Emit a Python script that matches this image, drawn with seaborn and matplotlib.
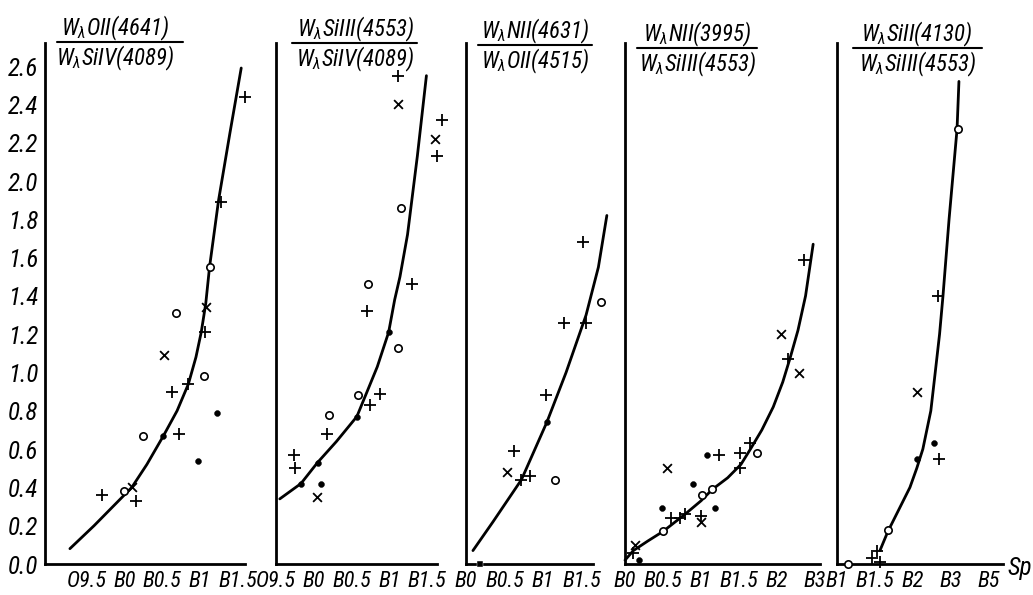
import matplotlib
matplotlib.use("Agg")
import matplotlib.pyplot as plt
import seaborn as sns
from matplotlib.lines import Line2D
from matplotlib import font_manager as fm

# x positions: panels 1-3 in spectral subclasses (B0 = 0),
# panels 4-5 in tick index (B0 = 0 / B1 = 0)

# panel 1 : OII(4641) / SiIV(4089)
p1_curve_x = [-0.72, -0.4, -0.1, 0.1, 0.3, 0.52, 0.7, 0.85, 0.95, 1.02, 1.08, 1.13, 1.25, 1.4, 1.55]
p1_curve_y = [0.08, 0.2, 0.32, 0.40, 0.52, 0.67, 0.8, 0.94, 1.08, 1.21, 1.36, 1.55, 1.90, 2.25, 2.59]
p1_plus_x = [-0.29, 0.15, 0.73, 0.63, 0.85, 1.07, 1.28, 1.60]
p1_plus_y = [0.36, 0.33, 0.68, 0.90, 0.94, 1.21, 1.89, 2.44]
p1_cross_x = [0.1, 0.53, 1.08]
p1_cross_y = [0.40, 1.09, 1.34]
p1_ring_x = [0.0, 0.25, 0.68, 1.06, 1.13]
p1_ring_y = [0.38, 0.67, 1.31, 0.98, 1.55]
p1_dot_x = [0.52, 0.98, 1.23]
p1_dot_y = [0.67, 0.54, 0.79]

# panel 2 : SiIII(4553) / SiIV(4089)
p2_curve_x = [-0.45, -0.17, 0.05, 0.3, 0.57, 0.84, 0.99, 1.07, 1.14, 1.24, 1.37, 1.49]
p2_curve_y = [0.34, 0.42, 0.53, 0.64, 0.77, 1.03, 1.21, 1.38, 1.50, 1.72, 2.13, 2.55]
p2_plus_x = [-0.26, -0.25, 0.18, 0.75, 0.88, 0.7, 1.3, 1.12, 1.70, 1.63]
p2_plus_y = [0.57, 0.50, 0.68, 0.83, 0.89, 1.32, 1.46, 2.55, 2.32, 2.13]
p2_cross_x = [0.04, 1.12, 1.61]
p2_cross_y = [0.35, 2.40, 2.22]
p2_ring_x = [0.2, 0.58, 1.12, 0.72, 1.15]
p2_ring_y = [0.78, 0.88, 1.13, 1.46, 1.86]
p2_dot_x = [-0.17, 0.05, 0.1, 0.57, 0.99]
p2_dot_y = [0.42, 0.53, 0.42, 0.77, 1.21]

# panel 3 : NII(4631) / OII(4515)
p3_curve_x = [0.09, 0.35, 0.72, 1.05, 1.3, 1.56, 1.72, 1.83]
p3_curve_y = [0.07, 0.22, 0.44, 0.74, 1.0, 1.3, 1.55, 1.82]
p3_plus_x = [0.62, 0.72, 0.83, 1.04, 1.27, 1.56, 1.52]
p3_plus_y = [0.59, 0.44, 0.46, 0.88, 1.26, 1.26, 1.68]
p3_cross_x = [0.53]
p3_cross_y = [0.48]
p3_ring_x = [1.16, 1.75]
p3_ring_y = [0.44, 1.37]
p3_dot_x = [1.05]
p3_dot_y = [0.74]
p3_square_x = [0.18]
p3_square_y = [0.0]

# panel 4 : NII(3995) / SiIII(4553)
p4_curve_x = [0.0, 0.22, 0.6, 1.0, 1.58, 2.0, 2.3, 2.7, 3.05, 3.3, 3.6, 3.9, 4.15, 4.35, 4.55, 4.75, 4.95]
p4_curve_y = [0.02, 0.07, 0.12, 0.17, 0.26, 0.33, 0.39, 0.45, 0.52, 0.60, 0.70, 0.82, 0.95, 1.08, 1.22, 1.40, 1.67]
p4_plus_x = [0.22, 1.2, 1.45, 1.58, 2.0, 2.48, 3.03, 3.03, 3.3, 4.3, 4.7]
p4_plus_y = [0.06, 0.24, 0.24, 0.26, 0.25, 0.57, 0.50, 0.58, 0.63, 1.07, 1.59]
p4_cross_x = [0.26, 1.1, 2.0, 4.1, 4.58]
p4_cross_y = [0.10, 0.50, 0.22, 1.20, 1.00]
p4_ring_x = [1.0, 2.03, 2.3, 3.46]
p4_ring_y = [0.17, 0.36, 0.39, 0.58]
p4_dot_x = [0.37, 0.97, 1.8, 2.17, 2.37]
p4_dot_y = [0.02, 0.29, 0.42, 0.57, 0.29]

# panel 5 : SiII(4130) / SiIII(4553)
p5_curve_x = [1.13, 1.34, 1.92, 2.1, 2.26, 2.47, 2.58, 2.7, 2.79, 2.95, 3.16, 3.21]
p5_curve_y = [0.07, 0.17, 0.40, 0.5, 0.60, 0.80, 0.99, 1.2, 1.40, 1.8, 2.27, 2.52]
p5_plus_x = [0.92, 1.13, 1.05, 2.68, 2.66]
p5_plus_y = [0.03, 0.01, 0.07, 0.55, 1.40]
p5_cross_x = [2.1]
p5_cross_y = [0.90]
p5_ring_x = [0.29, 1.34, 3.18]
p5_ring_y = [0.0, 0.18, 2.27]
p5_dot_x = [2.1, 2.55]
p5_dot_y = [0.55, 0.63]

p1_ticks = [-0.5, 0, 0.5, 1, 1.5]
p1_labels = ["O9.5", "B0", "B0.5", "B1", "B1.5"]
p3_ticks = [0, 0.5, 1, 1.5]
p3_labels = ["B0", "B0.5", "B1", "B1.5"]
p4_ticks = [0, 1, 2, 3, 4, 5]
p4_labels = ["B0", "B0.5", "B1", "B1.5", "B2", "B3"]
p5_ticks = [0, 1, 2, 3, 4]
p5_labels = ["B1", "B1.5", "B2", "B3", "B5"]
y_ticks = [i * 0.2 for i in range(14)]

numerators = [r"$W_\lambda$OII(4641)", r"$W_\lambda$SiIII(4553)", r"$W_\lambda$NII(4631)",
              r"$W_\lambda$NII(3995)", r"$W_\lambda$SiII(4130)"]
denominators = [r"$W_\lambda$SiIV(4089)", r"$W_\lambda$SiIV(4089)", r"$W_\lambda$OII(4515)",
                r"$W_\lambda$SiIII(4553)", r"$W_\lambda$SiIII(4553)"]

sns.set_style("white")

# pick a narrow italic face if one is installed, else Liberation Sans
family, fs_tick, fs_ytick, fs_title = "Liberation Sans", 13, 15, 14
for cand in ["Liberation Sans Narrow", "Roboto Condensed", "DejaVu Sans Condensed", "Open Sans Condensed"]:
    try:
        fm.findfont(fm.FontProperties(family=cand), fallback_to_default=False)
        family, fs_tick, fs_ytick, fs_title = cand, 16, 18, 16.5
        break
    except Exception:
        pass

plt.rcParams["font.family"] = [family, "DejaVu Sans"]
plt.rcParams["font.style"] = "italic"
plt.rcParams["mathtext.fontset"] = "custom"
plt.rcParams["mathtext.rm"] = f"{family}:italic"
plt.rcParams["mathtext.it"] = f"{family}:italic"
for k in ["text.color", "axes.labelcolor", "xtick.color", "ytick.color"]:
    plt.rcParams[k] = "black"

W, H = 1033, 595
fig = plt.figure(figsize=(W / 100, H / 100), dpi=100)
fig.patch.set_facecolor("white")

# axes boxes in pixels: left, right (end of x axis), x range
boxes = [
    (45, 245, -1.05, 1.6),
    (276, 437, -0.5, 1.63),
    (466, 593, 0.0, 1.65),
    (625, 820, 0.0, 5.13),
    (837, 1003, 0.0, 4.37),
]
bottom_px, top_ylim = 564, 2.72
px_per_unit = 191.5

panels = [
    (p1_curve_x, p1_curve_y, p1_plus_x, p1_plus_y, p1_cross_x, p1_cross_y, p1_ring_x, p1_ring_y, p1_dot_x, p1_dot_y, p1_ticks, p1_labels),
    (p2_curve_x, p2_curve_y, p2_plus_x, p2_plus_y, p2_cross_x, p2_cross_y, p2_ring_x, p2_ring_y, p2_dot_x, p2_dot_y, p1_ticks, p1_labels),
    (p3_curve_x, p3_curve_y, p3_plus_x, p3_plus_y, p3_cross_x, p3_cross_y, p3_ring_x, p3_ring_y, p3_dot_x, p3_dot_y, p3_ticks, p3_labels),
    (p4_curve_x, p4_curve_y, p4_plus_x, p4_plus_y, p4_cross_x, p4_cross_y, p4_ring_x, p4_ring_y, p4_dot_x, p4_dot_y, p4_ticks, p4_labels),
    (p5_curve_x, p5_curve_y, p5_plus_x, p5_plus_y, p5_cross_x, p5_cross_y, p5_ring_x, p5_ring_y, p5_dot_x, p5_dot_y, p5_ticks, p5_labels),
]

height_px = top_ylim * px_per_unit
axes = []
for i, ((l, r, x0, x1), pan) in enumerate(zip(boxes, panels)):
    cx, cy, plx, ply, crx, cry, rx, ry, dx, dy, ticks, labels = pan
    ax = fig.add_axes([l / W, (H - bottom_px) / H, (r - l) / W, height_px / H])
    ax.set_facecolor("none")
    sns.lineplot(x=cx, y=cy, ax=ax, sort=False, estimator=None, color="black", lw=2.0, clip_on=False)
    sns.scatterplot(x=plx, y=ply, ax=ax, marker="+", s=80, color="black", linewidth=1.3, clip_on=False)
    sns.scatterplot(x=crx, y=cry, ax=ax, marker="x", s=40, color="black", linewidth=1.3, clip_on=False)
    sns.scatterplot(x=rx, y=ry, ax=ax, marker="o", s=28, facecolor="white", edgecolor="black", linewidth=1.2, clip_on=False, zorder=5)
    sns.scatterplot(x=dx, y=dy, ax=ax, marker="o", s=18, color="black", edgecolor="black", clip_on=False, zorder=5)
    if i == 2:
        sns.scatterplot(x=p3_square_x, y=p3_square_y, ax=ax, marker="s", s=14, color="black", clip_on=False, zorder=5)
    ax.set_xlim(x0, x1)
    ax.set_ylim(0, top_ylim)
    ax.set_xticks(ticks)
    ax.set_xticklabels(labels, fontsize=fs_tick)
    ax.set_yticks(y_ticks)
    if i == 0:
        ax.set_yticklabels([f"{v:.1f}" for v in y_ticks], fontsize=fs_ytick)
    else:
        ax.set_yticklabels([])
    ax.tick_params(direction="in", length=8, width=1.4, color="black", pad=5)
    for s in ["top", "right"]:
        ax.spines[s].set_visible(False)
    for s in ["left", "bottom"]:
        ax.spines[s].set_linewidth(2.0)
        ax.spines[s].set_color("black")
    ax.set_xlabel("")
    ax.set_ylabel("")
    axes.append(ax)

axes[4].text(1.025, -0.008, "Sp", transform=axes[4].transAxes, fontsize=fs_tick + 2, ha="left", va="center")

# fraction titles above each panel
title_pos = [(115, 57, 183, 42), (355, 292, 417, 43), (535, 478, 592, 45), (697, 637, 757, 48), (917, 853, 982, 48)]
for (xc, xl, xr, yl), num, den in zip(title_pos, numerators, denominators):
    fig.text(xc / W, 1 - (yl - 14) / H, num, ha="center", va="center", fontsize=fs_title)
    fig.text(xc / W, 1 - (yl + 16) / H, den, ha="center", va="center", fontsize=fs_title)
    fig.add_artist(Line2D([xl / W, xr / W], [1 - yl / H, 1 - yl / H], transform=fig.transFigure, color="black", lw=1.5))

fig.savefig("out.png", dpi=100, facecolor="white")
